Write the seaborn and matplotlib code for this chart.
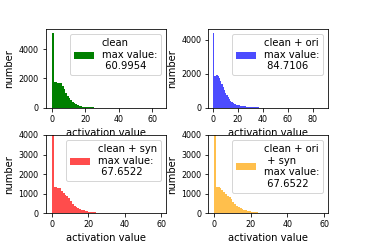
import numpy as np
import pandas as pd
import matplotlib
matplotlib.use('Agg')
import matplotlib.pyplot as plt
import seaborn as sns

# 활성값 히스토그램 (bin 폭 1) - 그림에서 읽은 값
labels = ['clean\nmax value:\n 60.9954',
          'clean + ori\nmax value:\n 84.7106',
          'clean + syn\nmax value:\n 67.6522',
          'clean + ori\n + syn\nmax value:\n 67.6522']
colors = ['green', 'blue', 'red', 'orange']
alphas = [1.0, 0.7, 0.7, 0.7]

clean = [5100, 1760, 1740, 1710, 1700, 1660, 1450, 1250, 1020, 820,
         640, 500, 390, 300, 220, 165, 120, 85, 60, 40,
         28, 18, 12, 8, 5, 4, 3, 2, 2, 1]
clean_ori = [4410, 1870, 1880, 1900, 1890, 1750, 1580, 1400, 1200, 1030,
             870, 730, 600, 490, 400, 330, 280, 235, 195, 165,
             150, 130, 115, 100, 88, 76, 65, 55, 45, 37,
             30, 24, 19, 15, 11, 8, 6, 4, 3, 2, 1]
clean_syn = [4800, 1330, 1320, 1300, 1270, 1150, 1030, 950, 860, 770,
             620, 480, 380, 320, 280, 230, 180, 150, 125, 100,
             85, 68, 55, 44, 36, 29, 23, 18, 14, 11,
             9, 7, 5, 4, 3, 2, 2, 1]
clean_ori_syn = [4800, 1330, 1320, 1300, 1180, 1080, 980, 900, 830, 720,
                 600, 470, 380, 310, 270, 230, 190, 150, 125, 100,
                 80, 65, 52, 42, 35, 28, 22, 17, 13, 10,
                 8, 6, 4, 3, 2, 2, 1]
series = [clean, clean_ori, clean_syn, clean_ori_syn]

xlims = [(-3.8, 68.2), (-3.5, 92.4), (-3.4, 62.5), (-3.2, 62.4)]
ylims = [(0, 5360), (0, 4630), (0, 4000), (0, 4000)]

fig, axes = plt.subplots(2, 2, figsize=(365 / 72, 244 / 72), dpi=72)
plt.subplots_adjust(wspace=0.35, hspace=0.35, bottom=0.126)

for ax, counts, lab, c, a, xl, yl in zip(axes.flat, series, labels, colors,
                                          alphas, xlims, ylims):
    df = pd.DataFrame({'value': np.arange(len(counts)) + 0.5, 'count': counts})
    sns.histplot(data=df, x='value', weights='count', binwidth=1,
                 binrange=(0, len(counts)), color=c, alpha=a, linewidth=0,
                 label=lab, ax=ax)
    ax.set_xlim(xl)
    ax.set_ylim(yl)
    ax.set_xlabel('activation value', fontsize=10)
    ax.set_ylabel('number', fontsize=10)
    ax.tick_params(labelsize=8)
    ax.legend(loc='upper right', fontsize=10)

plt.savefig('out.png', dpi=72)
